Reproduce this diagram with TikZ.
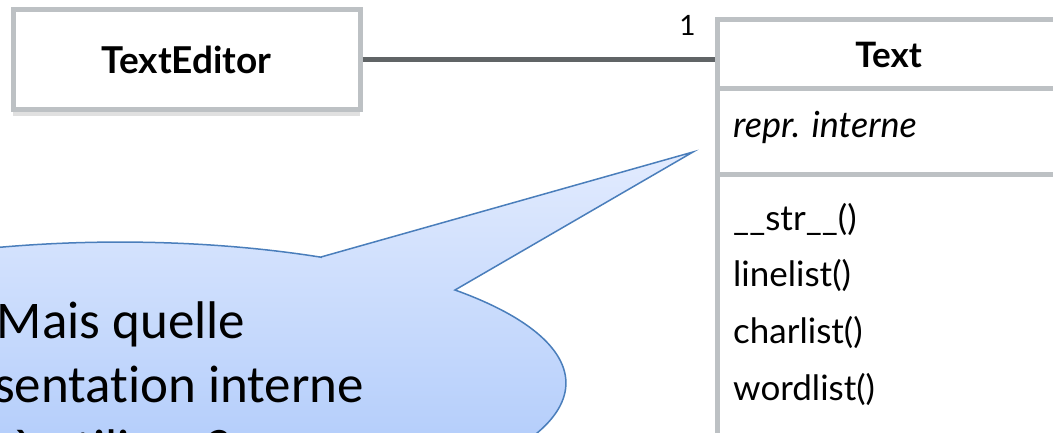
\documentclass[tikz,border=0pt]{standalone}
\usepackage{fontspec}
\setmainfont{Lato}
\newfontfamily\calloutfont[Ligatures=NoCommon]{Carlito}
\usetikzlibrary{positioning,shadows}

\definecolor{umlgray}{RGB}{189,193,196}
\definecolor{linkgray}{RGB}{96,100,102}
\definecolor{bubbleedge}{RGB}{74,126,187}
\definecolor{bubbletop}{RGB}{226,235,254}
\definecolor{bubblebottom}{RGB}{165,196,250}

\begin{document}
\begin{tikzpicture}[x=1pt, y=1pt,
    classbox/.style={rectangle, draw=umlgray, line width=5pt, fill=white, inner sep=0pt, outer sep=0pt},
    member/.style={anchor=base west, inner sep=0pt, font=\fontsize{35}{40}\selectfont},
    link/.style={draw=linkgray, line width=5pt},
    bubble/.style={draw=bubbleedge, line width=1.5pt, top color=bubbletop, bottom color=bubblebottom}]
    \useasboundingbox (0,0) rectangle (1053,-433);
    \clip (0,0) rectangle (1053,-433);

    % editor class
    \node[classbox, minimum width=347pt, minimum height=100pt,
        drop shadow={shadow xshift=0pt, shadow yshift=-6pt, fill=black!12, opacity=1},
        font=\bfseries\fontsize{37}{42}\selectfont] (editor) at (186.5,-60) {TextEditor};

    % text class: name, attributes, methods
    \node[classbox, anchor=north west, minimum width=343pt, minimum height=69pt,
        font=\bfseries\fontsize{35}{40}\selectfont] (text) at (717,-20) {Text};
    \node[classbox, anchor=north west, minimum width=343pt, minimum height=86pt] (fields) at (text.south west) {};
    \node[classbox, anchor=north west, minimum width=343pt, minimum height=300pt] (methods) at (fields.south west) {};
    \node[member, font=\itshape\fontsize{36}{40}\selectfont] (repr) at ([xshift=16pt, yshift=-49pt]fields.north west) {repr. interne};
    \foreach \meth [count=\i] in {\_\_str\_\_(), linelist(), charlist(), wordlist()}
        \node[member] (m\i) at ([xshift=16pt, yshift={-55pt-56.7pt*(\i-1)}]methods.north west) {\meth};

    % association
    \draw[link, shorten <=2.5pt, shorten >=2.5pt] (editor.east) -- (editor.east -| text.west)
        node[pos=1, anchor=south east, inner sep=0pt, xshift=-19pt, yshift=22pt,
            font=\fontsize{28}{32}\selectfont] (mult) {1};

    % speech bubble
    \path[bubble] (321,-257) -- (693,-152) -- (455,-290)
        arc[start angle=41.3, end angle=-296.8, x radius=446pt, y radius=141pt] -- cycle;
    \node[font=\calloutfont\fontsize{53}{64}\selectfont, align=center, anchor=base] (question) at (121,-466)
        {Mais quelle\\représentation interne\\à utiliser ?};
\end{tikzpicture}
\end{document}
